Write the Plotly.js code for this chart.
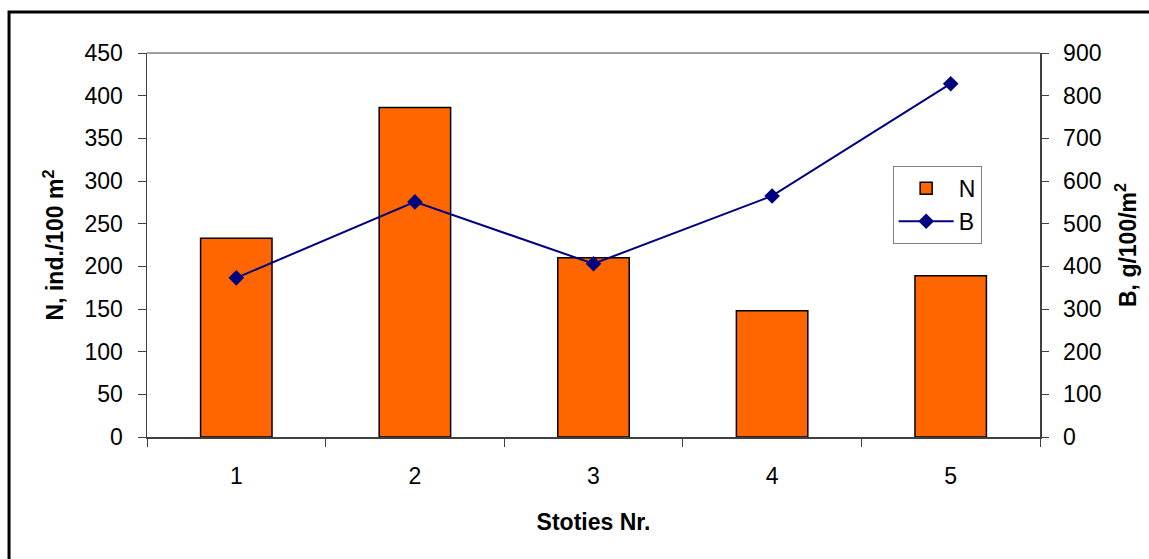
<!DOCTYPE html>
<html>
<head>
<meta charset="utf-8">
<script src="https://cdn.plot.ly/plotly-3.0.1.min.js"></script>
<style>
  html, body { margin: 0; padding: 0; background: #fff; }
  #chart { width: 1149px; height: 559px; }
</style>
</head>
<body>
<div id="chart"></div>
<script>
const categories = ["1", "2", "3", "4", "5"];
const nValues = [233, 386, 210, 148, 189];
const bValues = [373, 551, 406, 565, 828];
const nName = "N";
const bName = "B";
const xTitle = "Stoties Nr.";
const yTitleLeft = "N, ind./100 m<sup>2</sup>";
const yTitleRight = "B, g/100/m<sup>2</sup>";

const FONT = "Liberation Sans, Arial, sans-serif";
const FS = 23;

const traces = [
  {
    type: "bar",
    name: nName,
    x: categories,
    y: nValues,
    marker: { color: "#FF6600", line: { color: "#000000", width: 1.5 } },
    yaxis: "y"
  },
  {
    type: "scatter",
    mode: "lines+markers",
    name: bName,
    x: categories,
    y: bValues,
    line: { color: "#000080", width: 2 },
    marker: { symbol: "diamond", size: 12, color: "#000080" },
    yaxis: "y2"
  }
];

const layout = {
  width: 1149,
  height: 559,
  paper_bgcolor: "#ffffff",
  plot_bgcolor: "#ffffff",
  margin: { l: 147, r: 109, t: 53, b: 122 },
  font: { family: FONT, size: FS, color: "#000" },
  bargap: 0.6,
  showlegend: true,
  legend: {
    x: 0.835, y: 0.706, xanchor: "left", yanchor: "top",
    bgcolor: "#ffffff", bordercolor: "#808080", borderwidth: 1,
    font: { family: FONT, size: FS, color: "#000" },
    itemwidth: 55,
    tracegroupgap: 8
  },
  xaxis: {
    type: "category",
    showline: true, linecolor: "#404040", linewidth: 1.5,
    ticks: "outside", tickson: "boundaries", ticklen: 8, tickcolor: "#404040",
    showgrid: false, zeroline: false,
    tickfont: { family: FONT, size: FS },
    ticklabelstandoff: 18,
    title: { text: xTitle, font: { family: FONT, size: FS, weight: "bold" }, standoff: 26 }
  },
  yaxis: {
    range: [0, 450], dtick: 50,
    showline: true, linecolor: "#404040", linewidth: 1.5,
    ticks: "outside", ticklen: 8, tickcolor: "#404040",
    showgrid: false, zeroline: false,
    tickfont: { family: FONT, size: FS },
    ticklabelstandoff: 10,
    title: { text: yTitleLeft, font: { family: FONT, size: FS, weight: "bold" }, standoff: 14 }
  },
  yaxis2: {
    overlaying: "y", side: "right",
    range: [0, 900], dtick: 100,
    showline: true, linecolor: "#404040", linewidth: 1.5,
    ticks: "outside", ticklen: 7, tickcolor: "#404040",
    showgrid: false, zeroline: false,
    tickfont: { family: FONT, size: FS },
    ticklabelstandoff: 10,
    title: { text: yTitleRight, font: { family: FONT, size: FS, weight: "bold" }, standoff: 19 }
  },
  shapes: [
    { type: "line", xref: "paper", yref: "paper", x0: 0, x1: 1, y0: 1, y1: 1,
      line: { color: "#808080", width: 1.5 } },
    { type: "rect", xref: "paper", yref: "paper",
      x0: -0.1545, x1: 1.13, y0: -0.35, y1: 1.1068,
      line: { color: "#000000", width: 3 }, fillcolor: "rgba(0,0,0,0)", layer: "below" }
  ]
};

Plotly.newPlot("chart", traces, layout, { displayModeBar: false, staticPlot: true });
</script>
</body>
</html>
